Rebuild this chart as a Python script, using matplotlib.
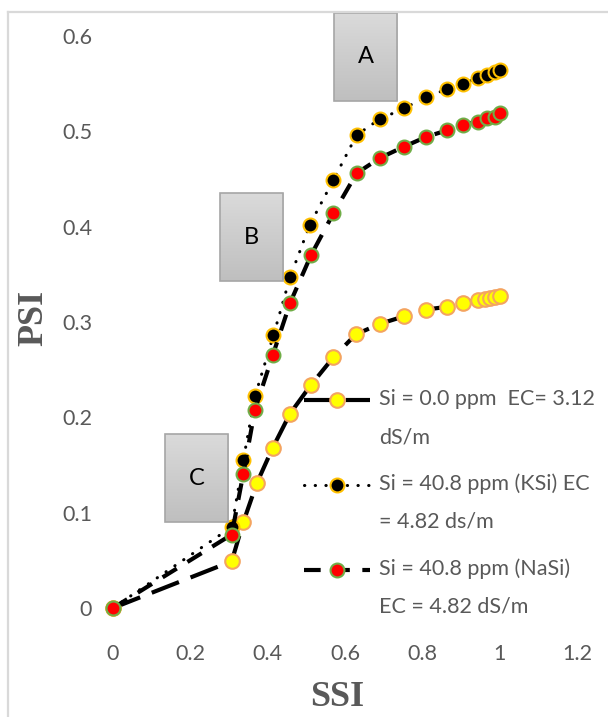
import numpy as np
import matplotlib
matplotlib.use("Agg")
import matplotlib.pyplot as plt
from matplotlib.lines import Line2D
from matplotlib.patches import Rectangle
from matplotlib.colors import LinearSegmentedColormap

plt.rcParams['font.family'] = ['Lato', 'DejaVu Sans']

# datos (SSI vs PSI)
ssi_0 = [0, 0.307, 0.337, 0.372, 0.413, 0.458, 0.512, 0.570, 0.628, 0.690, 0.753,
         0.809, 0.865, 0.906, 0.945, 0.962, 0.976, 0.988, 1.0]
psi_0 = [0, 0.049, 0.090, 0.131, 0.168, 0.204, 0.234, 0.263, 0.287, 0.298, 0.306,
         0.313, 0.316, 0.320, 0.323, 0.324, 0.325, 0.326, 0.327]

ssi_k = [0, 0.307, 0.337, 0.367, 0.415, 0.458, 0.509, 0.570, 0.630, 0.690, 0.753,
         0.809, 0.863, 0.906, 0.943, 0.966, 0.988, 1.0]
psi_k = [0, 0.085, 0.155, 0.222, 0.286, 0.347, 0.402, 0.449, 0.496, 0.513, 0.524,
         0.536, 0.544, 0.550, 0.556, 0.559, 0.562, 0.564]

ssi_na = [0, 0.307, 0.337, 0.367, 0.413, 0.458, 0.512, 0.570, 0.630, 0.690, 0.753,
          0.809, 0.863, 0.906, 0.943, 0.966, 0.988, 1.0]
psi_na = [0, 0.077, 0.141, 0.208, 0.265, 0.320, 0.370, 0.414, 0.456, 0.472, 0.484,
          0.494, 0.501, 0.507, 0.510, 0.514, 0.515, 0.519]

etiquetas = ["Si = 0.0 ppm  EC= 3.12\ndS/m",
             "Si = 40.8 ppm (KSi) EC\n= 4.82 ds/m",
             "Si = 40.8 ppm (NaSi)\nEC = 4.82 dS/m"]

cajas = ["A", "B", "C"]
# esquina inferior izquierda de cada caja (en unidades del eje)
cajas_x = [0.5715, 0.277, 0.134]
cajas_y = [0.532, 0.343, 0.090]

x_ticks = [0, 0.2, 0.4, 0.6, 0.8, 1, 1.2]
y_ticks = [0, 0.1, 0.2, 0.3, 0.4, 0.5, 0.6]

gris = '#595959'
tam = 15.5

# estilos de cada serie
estilos = [
    dict(color='black', lw=3.0, linestyle=(0, (7, 3)), marker='o', ms=10.5,
         mfc='#ffff00', mec='#f4a460', mew=1.5),
    dict(color='black', lw=2.2, linestyle=(0, (0.1, 3.4)), dash_capstyle='round',
         marker='o', ms=10, mfc='black', mec='#ffc000', mew=1.5),
    dict(color='black', lw=3.0, linestyle=(0, (4, 3)), marker='o', ms=10,
         mfc='#ff0000', mec='#70ad47', mew=1.5),
]

fig = plt.figure(figsize=(6.08, 7.17), dpi=100)
ax = fig.add_axes([113 / 608, 1 - 608 / 717, 464 / 608, 572 / 717])

series = [(ssi_0, psi_0), (ssi_k, psi_k), (ssi_na, psi_na)]
for (xs, ys), est in zip(series, estilos):
    ax.plot(xs, ys, clip_on=False, zorder=3, **est)

ax.set_xticks(x_ticks)
ax.set_xticklabels(['0', '0.2', '0.4', '0.6', '0.8', '1', '1.2'])
ax.set_yticks(y_ticks)
ax.set_yticklabels(['0', '0.1', '0.2', '0.3', '0.4', '0.5', '0.6'])
ax.tick_params(axis='both', length=0, labelsize=tam, labelcolor=gris)
ax.tick_params(axis='x', pad=26)
ax.tick_params(axis='y', pad=15)
for s in ax.spines.values():
    s.set_visible(False)

ax.set_xlabel('SSI', family='Liberation Serif', fontweight='bold', fontsize=26,
              color=gris, va='center')
ax.set_ylabel('PSI', family='Liberation Serif', fontweight='bold', fontsize=26,
              color=gris, va='center')
ax.xaxis.set_label_coords(0.484, -0.156)
ax.yaxis.set_label_coords(-0.170, 0.507)

# cajas grises con letras
grad = np.linspace(0, 1, 50).reshape(-1, 1)
cmap_gris = LinearSegmentedColormap.from_list('g', ['#bfbfbf', '#dadada'])
for letra, cx, cy in zip(cajas, cajas_x, cajas_y):
    w, h = 0.163, 0.092
    ax.imshow(grad, extent=(cx, cx + w, cy, cy + h), aspect='auto', cmap=cmap_gris,
              origin='lower', zorder=4, clip_on=False)
    ax.add_patch(Rectangle((cx, cy), w, h, fill=False, ec='#a6a6a6', lw=1.2,
                           zorder=5, clip_on=False))
    ax.text(cx + w / 2, cy + h / 2, letra, ha='center', va='center', fontsize=17,
            color='black', zorder=6, clip_on=False)
ax.set_xlim(0, 1.2)
ax.set_ylim(0, 0.6)

# leyenda hecha a mano
filas = [0.363, 0.215, 0.067]
for est, lab, fy in zip(estilos, etiquetas, filas):
    linea = {k: v for k, v in est.items() if k not in ('marker', 'ms', 'mfc', 'mec', 'mew')}
    ax.add_line(Line2D([0.412, 0.553], [fy, fy], transform=ax.transAxes,
                       clip_on=False, zorder=3, **linea))
    ax.add_line(Line2D([0.483], [fy], transform=ax.transAxes, clip_on=False, zorder=4,
                       marker='o', linestyle='none', ms=est['ms'], mfc=est['mfc'],
                       mec=est['mec'], mew=est['mew']))
    for i, txt in enumerate(lab.split('\n')):
        ax.annotate(txt, xy=(0.573, fy), xycoords='axes fraction',
                    xytext=(0, 1 - 27.5 * i), textcoords='offset points',
                    va='center', ha='left', fontsize=tam, color=gris)

# marco del grafico
fig.add_artist(Line2D([7.5 / 608, 7.5 / 608], [1 - 12 / 717, 0], color='#d9d9d9', lw=1.6))
fig.add_artist(Line2D([7.5 / 608, 1], [1 - 12 / 717, 1 - 12 / 717], color='#d9d9d9', lw=1.6))

fig.savefig('out.png', dpi=100)
